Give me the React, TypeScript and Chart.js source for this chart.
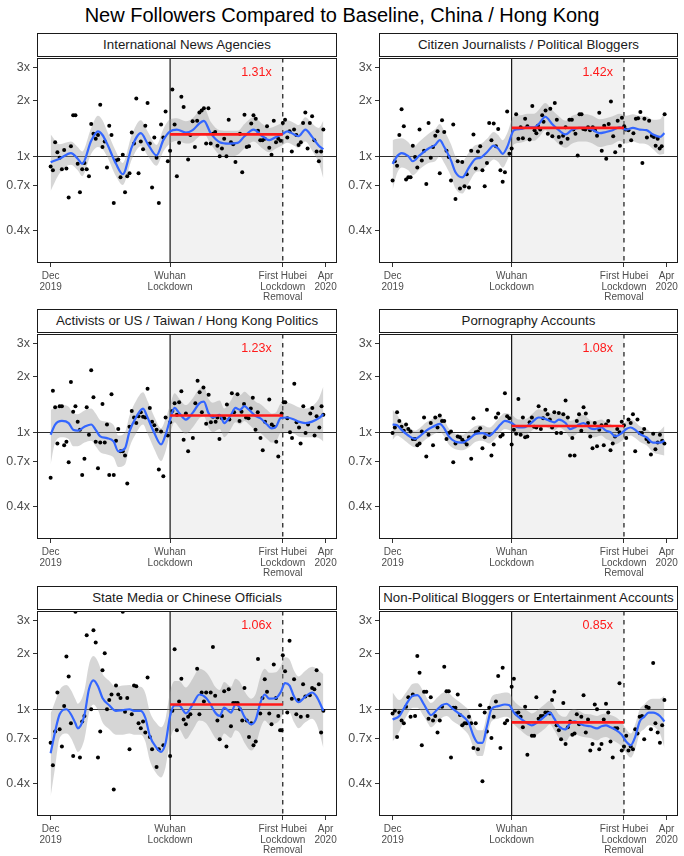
import React, { useEffect, useRef } from 'react';
import { Chart, registerables } from 'chart.js';

Chart.register(...registerables);

const FONT = '"Liberation Sans", Arial, Helvetica, sans-serif';
const TITLE = 'New Followers Compared to Baseline, China / Hong Kong';

// x axis is "days since 1 Dec 2019"
const xTickDays = [0, 53, 103, 122];
const xTickLabels = [['Dec', '2019'], ['Wuhan', 'Lockdown'], ['First Hubei', 'Lockdown', 'Removal'], ['Apr', '2020']];
const yTickVals = [0.4, 0.7, 1, 2, 3];
const yTickLabels = ['0.4x', '0.7x', '1x', '2x', '3x'];
const WUHAN_DAY = 53;
const HUBEI_DAY = 103;
const BASELINE = 1;
const LABEL_DAY = 91.3;
const LABEL_VALUE = 2.8;
const X_MIN = -6.05;
const X_MAX = 127.05;
const Y_MIN = 0.267;
const Y_MAX = 3.37;

const panelTitles = [
  'International News Agencies',
  'Citizen Journalists / Political Bloggers',
  'Activists or US / Taiwan / Hong Kong Politics',
  'Pornography Accounts',
  'State Media or Chinese Officials',
  'Non-Political Bloggers or Entertainment Accounts',
];
const ratios = [1.31, 1.42, 1.23, 1.08, 1.06, 0.85];
const ratioLabels = ['1.31x', '1.42x', '1.23x', '1.08x', '1.06x', '0.85x'];

// ---------- Panel 1: International News Agencies ----------
const p1Days = [0,1,2,3,4,5,6,7,8,9,10,11,12,13,14,15,16,17,18,19,20,21,22,23,24,25,26,27,28,29,30,31,32,33,34,35,36,37,38,39,40,41,42,43,44,45,46,47,48,49,50,51,52,53,54,55,56,57,58,59,
  61,62,63,64,65,66,67,68,69,70,71,72,73,74,75,76,77,78,79,80,81,82,
  84,85,86,87,88,89,90,91,92,93,94,95,96,97,98,99,100,101,102,103,104,105,106,107,108,109,110,111,112,113,114,115,116,117,118,119,120,121];
const p1Vals = [0.88,0.84,1.19,1.05,0.98,0.85,1.08,0.86,0.60,1.13,1.66,1.66,0.91,0.64,0.85,0.92,0.85,0.78,1.49,1.32,
  1.24,1.30,1.89,1.12,1.20,0.87,1.46,1.30,0.56,0.95,0.96,0.77,1.02,0.64,0.78,0.81,1.34,1.17,2.04,0.81,
  1.20,1.09,1.46,1.93,1.17,0.68,1.26,0.98,0.56,1.48,1.26,1.74,0.94,1.07,2.28,1.48,0.78,1.18,2.09,1.84,
  0.96,1.30,1.54,1.12,1.55,1.72,1.76,1.81,1.17,1.81,1.17,1.32,1.35,1.14,1.00,1.10,1.24,1.00,1.57,1.19,1.16,0.93,
  1.32,0.82,1.67,1.12,1.13,1.50,1.66,1.59,1.37,1.22,1.22,1.24,1.45,1.11,1.02,1.55,1.19,1.24,1.21,1.51,1.57,1.26,1.36,1.06,1.39,1.30,1.15,1.19,1.51,1.72,1.10,1.51,1.64,1.22,1.06,0.94,1.06,1.39];
const s1Days = [0,4,9,12,14,18,21,23,25,29,32,36,40,43,47,50,53,56,60,63,66,68,71,75,79,83,86,90,94,97,100,103,105,108,110,113,116,119,121];
const s1Mean = [0.93,0.97,1.04,0.97,0.91,1.21,1.36,1.30,1.17,0.91,0.80,1.12,1.33,1.17,1.01,1.22,1.36,1.39,1.34,1.38,1.50,1.55,1.33,1.19,1.17,1.18,1.28,1.39,1.28,1.22,1.27,1.32,1.36,1.31,1.28,1.39,1.27,1.14,1.09];
const s1Hi = [1.31,1.16,1.20,1.12,1.06,1.42,1.65,1.56,1.37,1.06,0.92,1.30,1.56,1.36,1.15,1.40,1.58,1.60,1.54,1.60,1.76,1.82,1.53,1.38,1.37,1.37,1.49,1.62,1.49,1.42,1.46,1.52,1.56,1.51,1.47,1.62,1.50,1.42,1.55];
const s1Lo = [0.65,0.81,0.90,0.84,0.78,1.03,1.12,1.09,1.00,0.78,0.70,0.96,1.13,1.01,0.89,1.06,1.17,1.21,1.17,1.19,1.28,1.32,1.16,1.02,1.00,1.02,1.10,1.20,1.10,1.05,1.10,1.15,1.18,1.14,1.11,1.20,1.07,0.92,0.76];

// ---------- Panel 2: Citizen Journalists ----------
const p2Days = [0,1,2,3,4,5,6,7,8,9,10,11,12,13,14,15,16,17,18,19,20,21,22,23,24,25,26,27,28,29,30,31,32,33,34,35,36,37,38,39,40,41,42,43,44,45,46,47,48,49,50,51,52,53,
  55,56,57,58,59,60,61,
  62.2,63.2,64.0,64.7,65.7,66.6,67.2,68.1,69.1,70.2,71.1,72.2,73.1,74.0,75.0,75.9,77.0,77.9,78.7,79.8,
  80.5,81.4,82.4,83.2,84.1,84.9,85.8,87.0,87.9,89.1,90.1,91.0,92.0,93.1,94.2,95.1,96.2,97.2,98.2,99.1,
  100.2,101.2,102.1,103.1,103.8,105.0,106.2,107.2,108.3,109.3,110.3,111.2,112.1,113.2,114.2,115.4,116.3,117.1,118.0,118.9,119.8,121.1];
const p2Vals = [0.74,0.94,0.89,1.30,1.79,1.45,0.75,0.77,0.77,1.14,0.99,0.87,1.39,0.95,1.07,0.71,1.51,0.98,1.12,1.29,
  1.36,0.81,1.56,1.35,1.07,0.99,0.74,1.48,0.59,0.94,0.67,0.93,0.69,0.80,0.68,1.07,1.31,0.86,1.06,1.13,
  0.84,0.69,0.92,1.51,1.22,1.50,1.13,1.40,0.84,0.73,0.82,1.74,1.03,1.10,
  1.68,1.24,1.43,1.25,1.59,1.45,1.23,
  1.86,1.38,1.33,1.46,1.39,1.66,1.53,1.76,1.32,1.80,1.28,1.93,1.57,1.27,1.18,1.29,1.43,1.24,1.57,1.57,
  1.39,1.32,1.01,1.68,1.68,1.40,1.39,1.43,1.38,1.43,1.38,1.29,1.71,1.07,1.46,0.97,1.49,1.97,1.28,1.05,
  1.55,1.14,1.61,1.45,1.39,1.38,1.22,1.33,1.59,1.60,1.73,0.92,1.59,1.26,1.55,1.29,1.27,1.14,1.24,1.10,1.13,1.68];
const s2Days = [0,2,4,7,9,12,16,19,21,23,26,28,31,34,37,39,42,45,47,49,51,54,57,60,63,65,68,71,74,77,80,83,86,89,92,95,98,101,104,107,110,113,116,119,121];
const s2Mean = [0.91,1.00,1.04,1.00,0.94,1.01,1.10,1.15,1.22,1.12,0.95,0.82,0.77,0.87,0.97,0.98,1.05,1.14,1.10,1.03,1.12,1.38,1.40,1.43,1.43,1.49,1.63,1.49,1.38,1.31,1.39,1.42,1.42,1.39,1.33,1.35,1.38,1.43,1.39,1.42,1.39,1.38,1.31,1.27,1.33];
const s2Hi = [1.22,1.24,1.25,1.19,1.12,1.20,1.32,1.40,1.49,1.37,1.16,1.00,0.94,1.05,1.15,1.16,1.24,1.35,1.30,1.22,1.33,1.64,1.66,1.69,1.69,1.77,1.93,1.77,1.64,1.55,1.65,1.68,1.68,1.65,1.58,1.60,1.64,1.69,1.65,1.68,1.65,1.64,1.57,1.58,1.73];
const s2Lo = [0.66,0.81,0.87,0.84,0.79,0.85,0.92,0.94,1.00,0.92,0.78,0.67,0.63,0.72,0.82,0.83,0.89,0.96,0.93,0.87,0.95,1.16,1.18,1.21,1.21,1.26,1.38,1.26,1.16,1.11,1.17,1.20,1.20,1.17,1.12,1.14,1.16,1.21,1.17,1.20,1.17,1.16,1.09,1.02,1.03];

// ---------- Panel 3: Activists ----------
const p3Days = [0,1,2,3,4,5,6,7,8,9,10,11,12,13,14,15,16,17,18,19,20,21,22,23,24,25,26,27,28,29,30,31,32,33,34,35,36,37,38,39,40,41,42,43,44,45,46,47,48,49,50,51,52,53,54,55,56,57,58,59,60,61,
  63.1,64.2,65.2,66.1,67.1,67.8,69.0,70.1,71.1,72.0,73.2,74.0,74.9,76.0,77.0,78.2,79.3,80.4,81.4,82.9,
  83.8,84.7,85.8,86.7,87.8,88.8,89.7,90.9,91.9,93.1,94.1,95.1,97.0,98.1,99.1,100.1,101.0,102.5,103.4,104.1,
  105.0,106.2,107.1,108.1,109.1,110.2,110.9,112.1,113.1,114.2,115.2,116.1,117.1,118.0,119.2,120.2,121.0];
const p3Vals = [0.57,1.67,1.36,0.87,1.38,1.38,0.85,0.89,0.69,1.86,1.29,1.38,1.14,1.03,0.59,0.72,1.36,0.97,2.15,1.54,
  0.89,0.64,0.88,1.42,0.88,1.10,0.59,1.60,0.59,0.90,1.04,0.79,0.79,0.75,0.53,1.07,1.30,1.20,1.12,1.22,
  1.28,1.21,1.20,1.71,1.35,1.14,1.09,1.03,0.63,1.01,0.58,1.20,0.96,1.13,1.30,1.43,1.24,1.45,1.66,0.91,1.26,0.79,
  0.93,1.43,1.89,1.64,1.28,1.74,1.11,1.59,1.13,1.21,1.14,1.20,0.92,1.19,1.19,1.41,1.17,1.62,1.28,1.60,
  1.15,1.29,1.42,1.20,1.19,1.34,1.53,1.03,1.28,0.93,0.80,1.14,1.50,1.10,1.07,0.89,0.74,1.26,1.45,1.45,
  1.19,1.00,0.93,1.82,1.13,1.06,0.87,1.38,0.99,1.10,1.26,1.35,0.96,1.22,1.06,1.38,1.24];
const s3Days = [0,2,5,8,10,12,15,18,20,22,25,28,30,33,35,38,41,43,46,49,51,53,55,57,60,63,66,68,70,72,75,77,80,82,84,86,88,91,93,96,98,100,102,105,108,110,113,116,119,121];
const s3Mean = [0.97,1.10,1.15,1.12,1.03,1.02,1.07,1.10,1.03,0.95,0.93,0.89,0.79,0.82,1.01,1.21,1.34,1.20,0.99,0.86,0.97,1.17,1.35,1.27,1.17,1.27,1.43,1.46,1.27,1.20,1.24,1.12,1.24,1.35,1.32,1.38,1.32,1.22,1.19,1.10,1.05,1.07,1.19,1.20,1.17,1.14,1.12,1.14,1.19,1.25];
const s3Hi = [1.32,1.35,1.40,1.37,1.26,1.25,1.31,1.34,1.26,1.16,1.14,1.09,0.96,1.00,1.23,1.48,1.64,1.47,1.21,1.05,1.18,1.40,1.62,1.52,1.40,1.52,1.71,1.75,1.52,1.44,1.48,1.34,1.48,1.62,1.58,1.65,1.58,1.46,1.42,1.32,1.26,1.28,1.42,1.44,1.40,1.36,1.34,1.38,1.52,1.76];
const s3Lo = [0.67,0.88,0.94,0.92,0.84,0.84,0.88,0.90,0.84,0.78,0.76,0.73,0.65,0.67,0.83,0.99,1.10,0.98,0.81,0.70,0.79,0.98,1.13,1.06,0.98,1.06,1.19,1.22,1.06,1.00,1.04,0.94,1.04,1.13,1.10,1.15,1.10,1.02,0.99,0.92,0.88,0.89,0.99,1.00,0.98,0.95,0.94,0.94,0.93,0.89];

// ---------- Panel 4: Pornography ----------
const p4Days = [0,1,2,3,4,5,6,7,8,9,10,11,12,13,14,15,16,17,18,19,20,21,22,23,24,25,26,27,28,29,30,31,32,33,34,35,36,37,38,39,40,41,42,43,44,45,46,47,48,49,50,51,52,53,54,55,56,57,58,59,60,
  61,62,63,64,65,66,67,68,69,70,71,72,73,74,75,76,77,78,79,80,81,82,83,84,85,86,87,88,89,90,91,92,93,94,95,96,97,98,99,100,101,102,103,104,105,106,107,108,109,110,111,112,113,114,115,116,117,118,119,120,121];
const p4Vals = [0.99,1.06,1.28,1.15,1.07,1.02,1.10,1.04,1.01,0.92,0.92,0.85,0.87,1.01,1.20,0.74,0.97,1.12,0.85,1.20,
  1.06,1.23,1.15,1.15,0.92,0.99,1.01,0.69,0.87,0.95,0.94,0.91,0.89,0.86,0.94,0.72,1.19,1.00,1.01,1.05,
  0.82,0.94,1.32,0.97,0.75,0.86,1.20,1.26,0.95,0.97,1.62,1.22,1.19,0.86,1.03,0.98,1.51,0.97,1.20,0.94,0.95,
  1.13,1.20,1.07,1.06,1.38,1.04,1.19,1.32,1.25,1.17,1.06,1.28,0.99,1.27,0.99,1.25,1.48,1.20,0.75,0.93,
  0.75,1.15,1.25,1.02,1.36,1.26,1.12,0.95,0.82,1.12,0.84,1.03,1.09,0.85,1.10,1.15,0.80,0.87,0.95,1.04,
  1.00,1.14,1.09,0.93,1.17,1.12,1.25,0.79,1.17,0.99,0.99,1.04,0.92,0.89,0.76,0.98,0.81,0.88,0.97,0.90,0.87];
const s4Days = [0,2,4,7,10,12,15,18,21,23,25,28,31,34,37,40,43,46,48,50,53,56,58,60,62,65,68,70,72,74,77,79,81,83,85,88,90,93,95,97,99,102,104,106,108,110,113,116,119,121];
const s4Mean = [1.10,1.09,1.03,0.96,0.92,0.95,1.02,1.07,1.11,1.05,0.95,0.89,0.88,0.92,0.98,0.99,0.96,1.03,1.10,1.15,1.12,1.06,1.06,1.08,1.13,1.20,1.18,1.15,1.13,1.17,1.12,1.04,1.06,1.10,1.12,1.05,1.04,1.06,1.02,1.00,0.95,0.99,1.04,1.06,1.03,0.98,0.94,0.88,0.88,0.90];
const s4Hi = [1.32,1.24,1.14,1.06,1.02,1.05,1.13,1.18,1.23,1.16,1.05,0.98,0.97,1.02,1.08,1.09,1.06,1.14,1.22,1.27,1.24,1.17,1.17,1.19,1.25,1.33,1.30,1.27,1.25,1.29,1.24,1.15,1.17,1.22,1.24,1.16,1.15,1.17,1.13,1.11,1.05,1.09,1.15,1.17,1.14,1.08,1.04,0.99,1.02,1.08];
const s4Lo = [0.91,0.96,0.93,0.87,0.83,0.86,0.92,0.97,1.00,0.95,0.86,0.81,0.80,0.83,0.89,0.90,0.87,0.93,1.00,1.04,1.01,0.96,0.96,0.98,1.02,1.09,1.07,1.04,1.02,1.06,1.01,0.94,0.96,1.00,1.01,0.95,0.94,0.96,0.92,0.90,0.86,0.90,0.94,0.96,0.93,0.89,0.85,0.78,0.76,0.75];

// ---------- Panel 5: State Media ----------
const p5Days = [0,1,2,3,4,5,6,7,8,9,10,11,13,14,15,16,18,19,20,21,22,23,24,25,26,27,28,29,30,31,32,33,34,35,36,37,38,39,40,41,42,43,44,45,47,48,50,53,54,55,56,57,58,59,60,61,
  62,65,66,67,68,69,71,72,73,74,75,76,77,78,79,80,81,82,83,84,85,86,87,88,89,90,91,92,93,94,95,96,97,98,99,100,101,101.8,102.4,103,104,105,106,107,108,109,110,111,112,113,114,115,116,117,118,119,120,121];
const p5Vals = [0.66,0.50,0.76,1.23,0.78,0.63,1.04,1.92,1.50,0.84,0.56,3.34,0.55,0.86,0.92,2.50,1.00,2.66,2.28,0.55,
  0.76,1.62,2.00,1.00,1.12,1.20,0.37,1.34,1.20,1.15,3.34,0.97,1.15,0.61,0.94,1.34,1.33,0.84,0.79,0.86,
  0.75,1.48,0.71,0.61,0.49,0.61,0.64,0.56,0.98,2.10,0.77,1.10,1.46,0.88,0.83,0.91,
  0.94,1.65,0.94,1.23,1.10,1.23,1.23,2.16,1.18,0.87,0.69,0.92,1.25,0.63,1.28,0.81,1.08,1.08,1.08,1.00,
  0.87,1.30,0.87,0.71,0.84,0.64,0.67,1.86,0.95,1.15,1.45,1.24,0.95,0.83,1.74,1.15,0.92,0.77,0.77,1.95,
  1.60,0.96,2.33,1.14,1.45,0.94,1.12,0.91,1.36,1.17,0.92,1.19,1.30,1.28,1.62,1.36,0.75,0.98];
const s5Days = [0,2,4,7,9,11,12,15,17,19,21,23,26,29,32,35,37,40,42,44,47,49,51,53,55,57,60,63,66,69,71,73,75,77,80,82,84,86,89,91,93,95,97,100,102,104,106,108,110,113,116,118,121];
const s5Mean = [0.58,0.76,0.94,1.00,0.94,0.84,0.79,0.93,1.28,1.43,1.33,1.15,1.05,0.98,0.99,1.00,0.98,0.98,0.90,0.72,0.62,0.59,0.66,0.92,1.05,1.05,0.95,1.06,1.20,1.15,1.06,0.96,0.92,1.02,0.96,1.06,1.02,0.91,0.83,0.88,1.08,1.20,1.14,1.15,1.23,1.38,1.34,1.17,1.09,1.17,1.23,1.17,0.98];
const s5Hi = [0.95,1.10,1.27,1.35,1.27,1.13,1.07,1.26,1.73,1.93,1.80,1.55,1.42,1.32,1.34,1.35,1.32,1.32,1.22,0.97,0.84,0.80,0.89,1.24,1.42,1.42,1.31,1.46,1.65,1.58,1.46,1.32,1.27,1.40,1.32,1.46,1.40,1.25,1.14,1.21,1.49,1.65,1.57,1.58,1.69,1.90,1.85,1.61,1.50,1.61,1.69,1.65,1.54];
const s5Lo = [0.34,0.49,0.70,0.74,0.70,0.62,0.59,0.69,0.95,1.06,0.99,0.85,0.78,0.73,0.73,0.74,0.73,0.73,0.67,0.53,0.45,0.43,0.49,0.68,0.78,0.78,0.69,0.77,0.87,0.84,0.77,0.70,0.67,0.74,0.70,0.77,0.74,0.66,0.60,0.64,0.78,0.87,0.83,0.84,0.89,1.00,0.97,0.85,0.79,0.85,0.89,0.83,0.62];

// ---------- Panel 6: Non-Political Bloggers ----------
const p6Days = [0,1,2,3,4,5,6,7,8,9,10,11,12,13,14,15,16,17,18,19,20,21,22,23,24,25,26,27,28,29,30,31,32,33,34,35,36,37,38,39,40,41,42,43,44,45,46,47,48,49,50,51,
  53,54,55,56,57,58,59,60,
  62,63,64,65,66,67,68,69,70,71,72,73,74,75,76,77,78,79,80,81,82,83,84,85,86,87,88,89,90,91,92,93,94,95,96,97,98,99,100,101,102,103,104,105,106,107,108,109,110,111,112,113,114,115,116,117,118,119,120,121];
const p6Vals = [0.95,0.98,0.71,0.96,0.87,0.84,1.03,1.16,0.91,1.20,0.92,1.93,1.57,0.64,1.24,1.24,0.89,1.16,0.87,0.92,
  0.75,0.87,1.03,1.69,1.25,1.25,0.55,1.02,1.02,1.20,0.93,0.82,0.84,0.84,0.91,0.84,0.62,0.84,0.61,1.05,
  0.41,0.96,0.76,1.02,0.70,0.91,1.10,1.51,0.62,1.67,0.84,0.87,
  1.32,1.46,0.95,0.96,0.91,0.80,1.03,0.57,
  0.72,0.72,1.16,0.89,0.92,0.92,0.96,0.96,0.95,1.12,1.24,0.82,0.77,0.69,1.08,0.65,0.80,0.86,0.73,0.74,
  0.94,0.83,0.91,1.19,0.75,0.88,0.60,0.65,1.06,1.00,0.61,0.65,0.88,1.07,0.96,0.67,0.55,0.79,0.79,1.38,
  0.60,0.63,0.72,0.60,0.63,0.61,0.78,0.74,0.91,0.92,0.69,1.03,1.02,0.78,1.77,0.84,0.75,0.66,0.82,1.12];
const s6Days = [0,3,6,9,11,14,16,17,20,22,24,27,29,32,34,36,38,40,42,44,47,50,52,54,57,60,62,65,68,70,72,74,77,79,81,83,85,88,91,93,95,97,99,102,104,106,108,110,112,114,116,119,121];
const s6Mean = [0.88,0.92,1.06,1.18,1.19,1.06,0.96,0.93,1.00,1.05,1.07,1.00,0.96,0.90,0.84,0.72,0.66,0.66,0.81,1.00,1.04,1.06,1.05,0.96,0.89,0.84,0.82,0.86,0.92,0.96,0.89,0.81,0.78,0.84,0.86,0.84,0.82,0.81,0.79,0.81,0.82,0.80,0.78,0.73,0.67,0.64,0.71,0.86,0.91,0.96,0.96,0.92,0.86];
const s6Hi = [1.23,1.12,1.23,1.37,1.38,1.23,1.11,1.08,1.16,1.22,1.24,1.16,1.11,1.04,0.98,0.84,0.77,0.77,0.94,1.16,1.21,1.23,1.22,1.11,1.03,0.98,0.95,1.00,1.07,1.11,1.03,0.94,0.91,0.98,1.00,0.98,0.95,0.94,0.92,0.94,0.95,0.93,0.91,0.85,0.78,0.74,0.83,1.00,1.06,1.12,1.14,1.14,1.18];
const s6Lo = [0.67,0.76,0.91,1.02,1.02,0.91,0.83,0.80,0.86,0.90,0.92,0.86,0.83,0.77,0.72,0.62,0.56,0.56,0.70,0.86,0.89,0.91,0.90,0.83,0.77,0.72,0.71,0.74,0.79,0.83,0.77,0.70,0.67,0.72,0.74,0.72,0.71,0.70,0.68,0.70,0.71,0.69,0.67,0.63,0.58,0.55,0.61,0.74,0.78,0.82,0.81,0.74,0.62];

const pointDays = [p1Days, p2Days, p3Days, p4Days, p5Days, p6Days];
const pointVals = [p1Vals, p2Vals, p3Vals, p4Vals, p5Vals, p6Vals];
const smoothDays = [s1Days, s2Days, s3Days, s4Days, s5Days, s6Days];
const smoothMean = [s1Mean, s2Mean, s3Mean, s4Mean, s5Mean, s6Mean];
const smoothHi = [s1Hi, s2Hi, s3Hi, s4Hi, s5Hi, s6Hi];
const smoothLo = [s1Lo, s2Lo, s3Lo, s4Lo, s5Lo, s6Lo];

// ---------- layout ----------
const PLOT_LEFTS = [37, 379];
const PLOT_WIDTHS = [300, 299];
const PLOT_TOPS = [58, 334, 611];
const PLOT_H = 205;
const Y_AXIS_W = [37, 42];
const X_AXIS_H = 44;
const PAD_T = 12;
const PAD_R = 5;
const STRIP_H = 24;

const pairs = (xs: number[], ys: number[]) => xs.map((x, i) => ({ x, y: ys[i] }));

const decorPlugin = {
  id: 'decor',
  beforeDatasetsDraw(chart: any) {
    const { ctx, chartArea: a, scales } = chart;
    const xs = scales.x;
    const ys = scales.y;
    const xw = xs.getPixelForValue(WUHAN_DAY);
    const xh = xs.getPixelForValue(HUBEI_DAY);
    ctx.save();
    ctx.beginPath();
    ctx.rect(a.left, a.top, a.right - a.left, a.bottom - a.top);
    ctx.clip();
    ctx.fillStyle = '#f2f2f2';
    ctx.fillRect(xw, a.top, xh - xw, a.bottom - a.top);
    const y1 = Math.round(ys.getPixelForValue(BASELINE)) + 0.5;
    ctx.lineWidth = 1.1;
    ctx.strokeStyle = '#2b2b2b';
    ctx.beginPath();
    ctx.moveTo(a.left, y1);
    ctx.lineTo(a.right, y1);
    ctx.stroke();
    ctx.strokeStyle = '#000';
    ctx.beginPath();
    ctx.moveTo(xw, a.top);
    ctx.lineTo(xw, a.bottom);
    ctx.stroke();
    ctx.setLineDash([4.5, 4.5]);
    ctx.beginPath();
    ctx.moveTo(xh, a.top);
    ctx.lineTo(xh, a.bottom);
    ctx.stroke();
    ctx.restore();
  },
  afterDraw(chart: any, _args: any, opts: any) {
    const { ctx, chartArea: a, scales } = chart;
    ctx.save();
    ctx.fillStyle = '#ff1a1a';
    ctx.font = `12.5px ${FONT}`;
    ctx.textAlign = 'center';
    ctx.textBaseline = 'middle';
    ctx.fillText(opts.label, scales.x.getPixelForValue(LABEL_DAY), scales.y.getPixelForValue(LABEL_VALUE));
    ctx.strokeStyle = '#1a1a1a';
    ctx.lineWidth = 1;
    ctx.strokeRect(a.left + 0.5, a.top + 0.5, a.right - a.left - 1, a.bottom - a.top - 1);
    ctx.restore();
  },
};

function Panel({ idx }: { idx: number }) {
  const ref = useRef<HTMLCanvasElement>(null);
  const row = Math.floor(idx / 2);
  const col = idx % 2;
  const plotLeft = PLOT_LEFTS[col];
  const plotW = PLOT_WIDTHS[col];
  const plotTop = PLOT_TOPS[row];
  const yw = Y_AXIS_W[col];
  const cw = yw + plotW + PAD_R;
  const ch = PAD_T + PLOT_H + X_AXIS_H;

  useEffect(() => {
    const chart = new Chart(ref.current as HTMLCanvasElement, {
      type: 'line',
      data: {
        datasets: [
          {
            data: pairs([WUHAN_DAY, HUBEI_DAY], [ratios[idx], ratios[idx]]),
            borderColor: '#ff1a1a', borderWidth: 2.7, pointRadius: 0, order: 0,
          },
          {
            data: pairs(smoothDays[idx], smoothMean[idx]),
            borderColor: '#3366ff', borderWidth: 2.2, pointRadius: 0,
            cubicInterpolationMode: 'monotone', order: 1,
          },
          {
            data: pairs(pointDays[idx], pointVals[idx]),
            showLine: false, pointRadius: 2, pointBorderWidth: 0,
            pointBackgroundColor: '#000', borderColor: '#000', order: 2,
          },
          {
            data: pairs(smoothDays[idx], smoothLo[idx]),
            borderColor: 'rgba(0,0,0,0)', borderWidth: 0, pointRadius: 0,
            cubicInterpolationMode: 'monotone', fill: false, order: 3,
          },
          {
            data: pairs(smoothDays[idx], smoothHi[idx]),
            borderColor: 'rgba(0,0,0,0)', borderWidth: 0, pointRadius: 0,
            cubicInterpolationMode: 'monotone', fill: '-1',
            backgroundColor: 'rgba(153,153,153,0.4)', order: 4,
          },
        ] as any,
      },
      options: {
        animation: false,
        responsive: false,
        maintainAspectRatio: false,
        events: [],
        layout: { padding: { top: PAD_T, right: PAD_R, left: 0, bottom: 0 } },
        plugins: {
          legend: { display: false },
          tooltip: { enabled: false },
          title: { display: false },
          decor: { label: ratioLabels[idx] },
        } as any,
        scales: {
          x: {
            type: 'linear', min: X_MIN, max: X_MAX,
            afterBuildTicks: (axis: any) => { axis.ticks = xTickDays.map((v) => ({ value: v })); },
            afterFit: (axis: any) => { axis.height = X_AXIS_H; },
            ticks: {
              autoSkip: false, maxRotation: 0, minRotation: 0, color: '#4d4d4d', padding: 4,
              font: { family: FONT, size: 10, lineHeight: 1.06 },
              callback: (_v: any, i: number) => xTickLabels[i],
            },
            grid: { display: true, drawOnChartArea: false, drawTicks: true, tickLength: 4, color: '#333', lineWidth: 1 },
            border: { display: false },
          },
          y: {
            type: 'logarithmic', min: Y_MIN, max: Y_MAX,
            afterBuildTicks: (axis: any) => { axis.ticks = yTickVals.map((v) => ({ value: v })); },
            afterFit: (axis: any) => { axis.width = yw; },
            ticks: {
              color: '#4d4d4d', padding: 3,
              font: { family: FONT, size: 12.5 },
              callback: (_v: any, i: number) => yTickLabels[i],
            },
            grid: { display: true, drawOnChartArea: false, drawTicks: true, tickLength: 4, color: '#333', lineWidth: 1 },
            border: { display: false },
          },
        } as any,
      },
      plugins: [decorPlugin],
    } as any);
    return () => chart.destroy();
  }, []);

  return (
    <>
      <canvas
        ref={ref}
        width={cw}
        height={ch}
        style={{ position: 'absolute', left: plotLeft - yw, top: plotTop - PAD_T, width: cw, height: ch }}
      />
      <div
        style={{
          position: 'absolute', left: plotLeft, top: plotTop - STRIP_H - 1, width: plotW, height: STRIP_H,
          boxSizing: 'border-box', border: '1px solid #1a1a1a', background: '#fff',
          fontFamily: FONT, fontSize: 13.3, color: '#1a1a1a', textAlign: 'center',
          lineHeight: `${STRIP_H - 2}px`, whiteSpace: 'nowrap', overflow: 'hidden',
        }}
      >
        {panelTitles[idx]}
      </div>
    </>
  );
}

export default function App() {
  return (
    <div style={{ position: 'absolute', left: 0, top: 0, width: 684, height: 856, background: '#fff', overflow: 'hidden' }}>
      <div
        style={{
          position: 'absolute', left: 0, top: 2, width: 684, height: 26, textAlign: 'center',
          fontFamily: FONT, fontSize: 20, lineHeight: '26px', color: '#000', whiteSpace: 'nowrap',
        }}
      >
        {TITLE}
      </div>
      {[0, 1, 2, 3, 4, 5].map((i) => (
        <Panel key={i} idx={i} />
      ))}
    </div>
  );
}
